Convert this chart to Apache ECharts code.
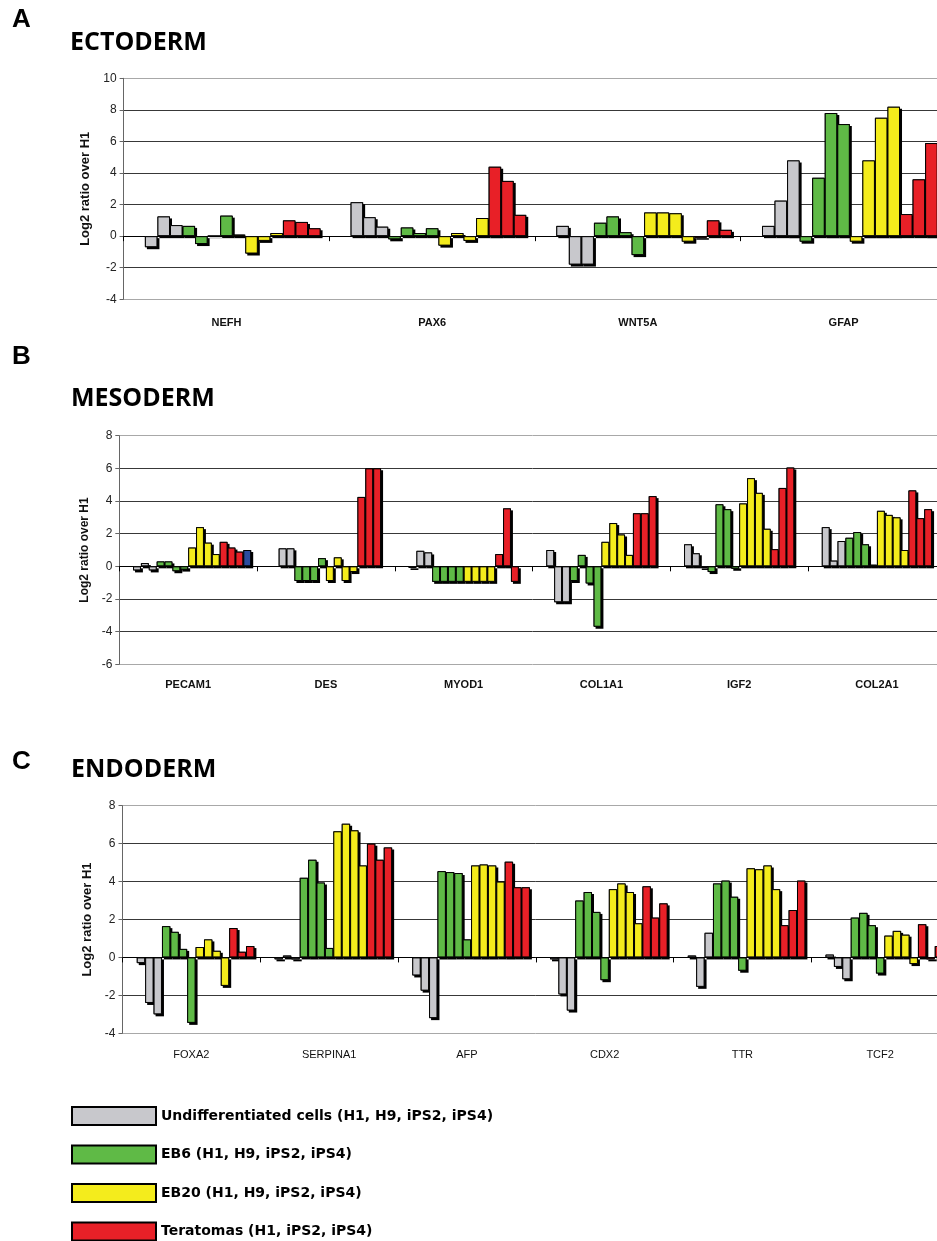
<!DOCTYPE html>
<html>
<head>
<meta charset="utf-8">
<title>Germ layer marker expression</title>
<script src="https://cdn.jsdelivr.net/npm/echarts@6/dist/echarts.min.js"></script>
<style>
    html, body { margin: 0; padding: 0; background: #fff; overflow: hidden; }
    #chart { width: 952px; height: 1320px; }
</style>
</head>
<body>
<div id="chart"></div>
<script>
// genes shown in each panel
const ectoGenes = ['NEFH', 'PAX6', 'WNT5A', 'GFAP'];
const mesoGenes = ['PECAM1', 'DES', 'MYOD1', 'COL1A1', 'IGF2', 'COL2A1'];
const endoGenes = ['FOXA2', 'SERPINA1', 'AFP', 'CDX2', 'TTR', 'TCF2'];

// log2 ratio over H1, one row per gene, columns = [H1, H9, iPS2, iPS4]
const ectoUndiff = [[0, -0.7, 1.25, 0.7], [0, 2.15, 1.2, 0.6], [0, 0.65, -1.8, -1.8], [0, 0.65, 2.25, 4.8]];
const ectoEB6 = [[0.65, -0.5, 0.02, 1.3], [-0.2, 0.55, 0.2, 0.5], [0.85, 1.25, 0.25, -1.2], [-0.35, 3.7, 7.8, 7.1]];
const ectoEB20 = [[0.1, -1.1, -0.3, 0.2], [-0.6, 0.2, -0.3, 1.15], [1.5, 1.5, 1.45, -0.35], [-0.35, 4.8, 7.5, 8.2]];
// teratomas, columns = [H1, iPS2, iPS4]
const ectoTeratoma = [[1.0, 0.9, 0.5], [4.4, 3.5, 1.35], [-0.1, 1.0, 0.4], [1.4, 3.6, 5.9]];

const mesoUndiff = [[0, -0.25, 0.2, -0.25], [0, 0, 1.1, 1.1], [0, -0.1, 0.95, 0.85], [0, 1.0, -2.2, -2.2], [0, 1.35, 0.8, -0.1], [0, 2.4, 0.35, 1.55]];
const mesoEB6 = [[0.3, 0.3, -0.3, -0.2], [-0.9, -0.9, -0.9, 0.5], [-0.95, -0.95, -0.95, -0.95], [-0.9, 0.7, -1.05, -3.7], [-0.35, 3.8, 3.5, -0.15], [1.75, 2.1, 1.35, 0.1]];
const mesoEB20 = [[1.15, 2.4, 1.45, 0.75], [-0.9, 0.55, -0.9, -0.35], [-0.95, -0.95, -0.95, -0.95], [1.5, 2.65, 1.95, 0.7], [3.85, 5.4, 4.5, 2.3], [3.4, 3.15, 3.0, 1.0]];
const mesoTeratoma = [[1.5, 1.15, 0.9], [4.25, 6.0, 6.0], [0.75, 3.55, -0.95], [3.25, 3.25, 4.3], [1.05, 4.8, 6.05], [4.65, 2.95, 3.5]];
// extra (blue) sample, only present for PECAM1
const mesoExtra = [1.0, 0, 0, 0, 0, 0];

const endoUndiff = [[0, -0.3, -2.4, -3.0], [0, -0.1, 0.1, -0.1], [0, -0.95, -1.75, -3.2], [0, -0.1, -1.95, -2.8], [0, 0.1, -1.55, 1.3], [0, 0.15, -0.5, -1.15]];
const endoEB6 = [[1.65, 1.35, 0.45, -3.45], [4.2, 5.15, 3.95, 0.5], [4.55, 4.5, 4.45, 0.95], [3.0, 3.45, 2.4, -1.2], [3.9, 4.05, 3.2, -0.7], [2.1, 2.35, 1.7, -0.85]];
const endoEB20 = [[0.55, 0.95, 0.35, -1.5], [6.65, 7.05, 6.7, 4.85], [4.85, 4.9, 4.85, 4.0], [3.6, 3.9, 3.45, 1.8], [4.7, 4.65, 4.85, 3.6], [1.15, 1.4, 1.2, -0.35]];
const endoTeratoma = [[1.55, 0.3, 0.6], [6.0, 5.15, 5.8], [5.05, 3.7, 3.7], [3.75, 2.1, 2.85], [1.7, 2.5, 4.05], [1.75, -0.1, 0.6]];

// legend names
const undiffName = 'Undifferentiated cells (H1, H9, iPS2, iPS4)';
const eb6Name = 'EB6 (H1, H9, iPS2, iPS4)';
const eb20Name = 'EB20 (H1, H9, iPS2, iPS4)';
const teratomaName = 'Teratomas (H1, iPS2, iPS4)';

const colors = {
    undiff: '#c8c8cc',
    eb6: '#5fba46',
    eb20: '#f4ec1c',
    teratoma: '#e82027',
    extra: '#2b4c9e'
};

const barLayout = { barGap: '0%', barCategoryGap: '8.5%', silent: true };

/**
 * Builds one bar series for a panel, plus its drop shadow (a black copy on the
 * twin x axis of the same grid, so it gets exactly the same bar slots).
 * Bars at exactly 0 are not visible in the figure.
 */
function barSeries(name, color, values, gridIndex) {
    let bar = {
        type: 'bar',
        name: name,
        data: values.map(v => v === 0 ? '-' : v),
        xAxisIndex: gridIndex * 2,
        yAxisIndex: gridIndex,
        z: 3,
        ...barLayout,
        itemStyle: { color: color, borderColor: '#000', borderWidth: 1 }
    };
    let shadow = {
        type: 'bar',
        name: 'shadow',
        data: values.map(v => v === 0 ? '-' : v),
        xAxisIndex: gridIndex * 2 + 1,
        yAxisIndex: gridIndex,
        z: 2,
        ...barLayout,
        itemStyle: {
            color: '#000',
            shadowColor: '#000',
            shadowBlur: 0,
            shadowOffsetX: 2,
            shadowOffsetY: 2
        }
    };
    return [bar, shadow];
}

/**
 * Builds all the series of a panel: 4 undiff, 4 EB6, 4 EB20, 3 teratomas (+ extra).
 */
function panelSeries(gridIndex, undiff, eb6, eb20, teratoma, extra) {
    let list = [];
    for (let j = 0; j < 4; j++) {
        list.push(...barSeries(undiffName, colors.undiff, undiff.map(row => row[j]), gridIndex));
    }
    for (let j = 0; j < 4; j++) {
        list.push(...barSeries(eb6Name, colors.eb6, eb6.map(row => row[j]), gridIndex));
    }
    for (let j = 0; j < 4; j++) {
        list.push(...barSeries(eb20Name, colors.eb20, eb20.map(row => row[j]), gridIndex));
    }
    for (let j = 0; j < 3; j++) {
        list.push(...barSeries(teratomaName, colors.teratoma, teratoma.map(row => row[j]), gridIndex));
    }
    if (extra) {
        list.push(...barSeries('Other', colors.extra, extra, gridIndex));
    }
    return list;
}

const tickFont = { fontFamily: 'Liberation Sans, Arial, sans-serif', fontSize: 12, color: '#222' };

// two x axes per panel: one on the zero line (line + ticks), one at the bottom (labels)
function xAxes(gridIndex, genes, labelMargin, bold) {
    return [
        {
            type: 'category',
            gridIndex: gridIndex,
            data: genes,
            axisLine: { onZero: true, lineStyle: { color: '#000', width: 1 } },
            axisTick: { show: true, length: 5, lineStyle: { color: '#000' } },
            axisLabel: { show: false },
            splitLine: { show: false }
        },
        {
            type: 'category',
            gridIndex: gridIndex,
            data: genes,
            position: 'bottom',
            axisLine: { show: false, onZero: false },
            axisTick: { show: false },
            axisLabel: {
                margin: labelMargin,
                fontFamily: 'Liberation Sans, Arial, sans-serif',
                fontSize: 11,
                fontWeight: bold ? 'bold' : 'normal',
                color: '#111'
            },
            splitLine: { show: false }
        }
    ];
}

function yAxis(gridIndex, min, max, nameGap, nameSize, lineColors) {
    return {
        type: 'value',
        gridIndex: gridIndex,
        min: min,
        max: max,
        interval: 2,
        name: 'Log2 ratio over H1',
        nameLocation: 'middle',
        nameGap: nameGap,
        nameTextStyle: {
            fontFamily: 'Liberation Sans, Arial, sans-serif',
            fontWeight: 'bold',
            fontSize: nameSize,
            color: '#111'
        },
        axisLine: { show: true, onZero: false, lineStyle: { color: '#666', width: 1 } },
        axisTick: { show: true, length: 4, lineStyle: { color: '#666' } },
        axisLabel: { margin: 7, ...tickFont },
        splitLine: { show: true, lineStyle: { color: lineColors, width: 1 } }
    };
}

const outer = '#a8a8a8';
const inner = '#383838';

const chart = echarts.init(document.getElementById('chart'), null, { renderer: 'canvas' });

const option = {
    animation: false,
    backgroundColor: '#fff',
    grid: [
        { left: 123.6, top: 78.3, width: 822.8, height: 221 },
        { left: 119.3, top: 435.7, width: 826.5, height: 228.6 },
        { left: 122.5, top: 805.7, width: 826.5, height: 227.6 }
    ],
    xAxis: [
        ...xAxes(0, ectoGenes, 18, true),
        ...xAxes(1, mesoGenes, 15, true),
        ...xAxes(2, endoGenes, 16, false)
    ],
    yAxis: [
        yAxis(0, -4, 10, 29, 13, [outer, inner, inner, inner, inner, inner, inner, outer]),
        yAxis(1, -6, 8, 25, 12, [outer, inner, inner, inner, inner, inner, inner, outer]),
        yAxis(2, -4, 8, 23, 13, [outer, inner, inner, inner, inner, inner, outer])
    ],
    legend: {
        data: [undiffName, eb6Name, eb20Name, teratomaName],
        orient: 'vertical',
        left: 71,
        top: 1106,
        padding: 0,
        itemWidth: 84,
        itemHeight: 18,
        itemGap: 18.5,
        icon: 'rect',
        selectedMode: false,
        textStyle: {
            fontFamily: 'DejaVu Sans, sans-serif',
            fontWeight: 'bold',
            fontSize: 14,
            color: '#000'
        }
    },
    graphic: [
        { type: 'text', left: 12, top: 6.5, style: { text: 'A', font: 'bold 26px "Liberation Sans", Arial', fill: '#000' } },
        { type: 'text', left: 70, top: 30, style: { text: 'ECTODERM', font: 'bold 25px "Open Sans", sans-serif', fill: '#000' } },
        { type: 'text', left: 12, top: 344, style: { text: 'B', font: 'bold 26px "Liberation Sans", Arial', fill: '#000' } },
        { type: 'text', left: 71, top: 386.5, style: { text: 'MESODERM', font: 'bold 25px "Open Sans", sans-serif', fill: '#000' } },
        { type: 'text', left: 12, top: 749, style: { text: 'C', font: 'bold 26px "Liberation Sans", Arial', fill: '#000' } },
        { type: 'text', left: 71, top: 757.5, style: { text: 'ENDODERM', font: 'bold 25px "Open Sans", sans-serif', fill: '#000' } }
    ],
    series: [
        ...panelSeries(0, ectoUndiff, ectoEB6, ectoEB20, ectoTeratoma, null),
        ...panelSeries(1, mesoUndiff, mesoEB6, mesoEB20, mesoTeratoma, mesoExtra),
        ...panelSeries(2, endoUndiff, endoEB6, endoEB20, endoTeratoma, null)
    ]
};

chart.setOption(option);
</script>
</body>
</html>
